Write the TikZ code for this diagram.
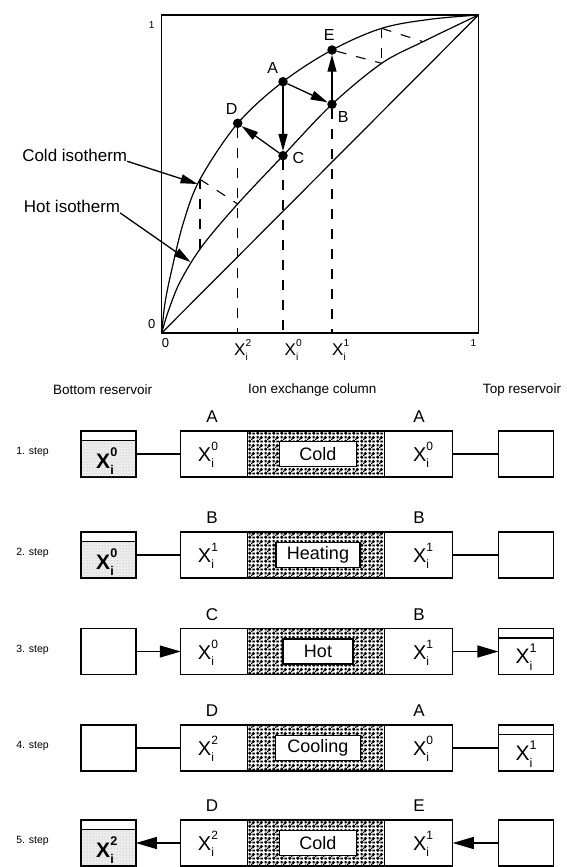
\documentclass[tikz,border=0pt]{standalone}
\usepackage{fontspec}
\setmainfont{Liberation Sans}
\usepackage{graphicx}
\usetikzlibrary{arrows.meta,patterns}
\pgfdeclarepatternformonly{speckle}{\pgfpointorigin}{\pgfpoint{8pt}{8pt}}{\pgfpoint{8pt}{8pt}}{%
  \pgfpathcircle{\pgfpoint{2pt}{2pt}}{2pt}%
  \pgfpathcircle{\pgfpoint{6pt}{6pt}}{1.9pt}%
  \pgfpathrectangle{\pgfpoint{5pt}{0.8pt}}{\pgfpoint{2.6pt}{1.8pt}}%
  \pgfpathrectangle{\pgfpoint{0.6pt}{5pt}}{\pgfpoint{2.2pt}{2.6pt}}%
  \pgfpathrectangle{\pgfpoint{3.4pt}{3.4pt}}{\pgfpoint{1.4pt}{1.4pt}}%
  \pgfusepath{fill}}
\newcommand{\Xsym}[1]{X\rlap{\raisebox{0.55em}{\scalebox{0.6}{#1}}}\raisebox{-0.3em}{\scalebox{0.6}{i}}}
\newcommand{\lidres}[1]{\draw[boxline] ([yshift=-9.5pt]#1.north west) -- ([yshift=-9.5pt]#1.north east);}
\newcommand{\stipres}[1]{\fill[stip] ([xshift=0.65pt,yshift=-10.2pt]#1.north west) rectangle ([xshift=-0.65pt,yshift=0.65pt]#1.south east);}
\newcommand{\colrow}[9]{%
  \fill[pattern=speckle] (247.7,#2-23) rectangle (384.4,#2+23);
  \draw[thinline] (247.7,#2-23) -- (247.7,#2+23) (384.4,#2-23) -- (384.4,#2+23);
  \node[colbox] (col#1) at (316.75,#2) {};
  \node[innerbox, minimum width=#9] (in#1) at (318,#2) {#8};
  \node[rowlbl] (la#1) at (212,#2-37) {#4};
  \node[rowlbl] (lb#1) at (419,#2-37) {#5};
  \node[xlbl] (xa#1) at (206,#2+1) {\Xsym{#6}};
  \node[xlbl] (xb#1) at (421,#2+1) {\Xsym{#7}};
  \node[steplbl] (s#1) at (32.5,#2-2) {#3};
  \node[res] (bl#1) at (108.35,#2) {};
  \node[res] (br#1) at (525.95,#2) {};
}
\tikzset{
  every node/.style={inner sep=0pt, outer sep=0pt},
  frame/.style={line width=1.3pt},
  curve/.style={line width=1.2pt},
  tie/.style={line width=1.1pt, dash pattern=on 10pt off 10pt},
  garr/.style={line width=1.3pt, -{Triangle[length=17pt,width=9pt]}},
  ptdot/.style={circle, fill=black, minimum size=9.5pt, inner sep=0pt},
  ptlbl/.style={font=\fontsize{16}{18}\selectfont},
  isolbl/.style={font=\fontsize{17}{19}\selectfont},
  axlbl/.style={font=\fontsize{13}{15}\selectfont},
  axone/.style={font=\fontsize{10}{12}\selectfont},
  axx/.style={font=\fontsize{17}{19}\selectfont},
  hdr/.style={font=\fontsize{13.5}{16}\selectfont},
  steplbl/.style={font=\fontsize{10.5}{12}\selectfont},
  rowlbl/.style={font=\fontsize{17}{19}\selectfont},
  xlbl/.style={font=\fontsize{20}{22}\selectfont},
  reslbl/.style={font=\fontsize{21}{23}\selectfont},
  boxline/.style={line width=1.4pt},
  thinline/.style={line width=0.7pt},
  res/.style={draw, line width=1.4pt, minimum width=55pt, minimum height=46pt},
  colbox/.style={draw, line width=1.4pt, minimum width=272pt, minimum height=46pt},
  innerbox/.style={draw, line width=1.4pt, fill=white, minimum height=25pt, font=\fontsize{18}{20}\selectfont},
  stip/.style={fill=gray!14, postaction={pattern=dots, pattern color=gray!70}},
  conn/.style={line width=1.3pt},
  rarr/.style={line width=1.3pt, -{Triangle[length=21pt,width=12pt]}},
}
\begin{document}
\begin{tikzpicture}[x=1pt,y=-1pt]
\useasboundingbox (0,0) rectangle (566,867);
% ---------------- graph ----------------
\coordinate (O) at (161.7,333);
\coordinate (TR) at (478.5,15);
\draw[frame] (O) rectangle (TR);
\draw[curve] (O) -- (TR);
\draw[curve] plot[smooth, tension=0.55] coordinates {(161.7,333) (165,303) (171.7,270) (183.3,223) (200,179.3) (237.7,123.3) (283,81.7) (332,50) (381.7,28.3) (430,19.3) (478.5,15)};
\draw[curve] plot[smooth, tension=0.55] coordinates {(161.7,333) (168,312) (180,282) (201.7,246.7) (236.7,205) (283,155.7) (332,104.3) (381.7,63.3) (423,41.7) (478.5,15)};
% points
\node[ptdot] (A) at (283,81.7) {};
\node[ptdot] (B) at (332,104.3) {};
\node[ptdot] (C) at (283,155.7) {};
\node[ptdot] (D) at (237.7,123.3) {};
\node[ptdot] (E) at (332,50) {};
\node[ptlbl] (lA) at (272.7,68.3) {A};
\node[ptlbl] (lB) at (343.3,117.3) {B};
\node[ptlbl] (lC) at (298.3,158.3) {C};
\node[ptlbl] (lD) at (231.7,109.3) {D};
\node[ptlbl] (lE) at (329.3,35) {E};
% dashed construction lines
\coordinate (c1) at (200,179.3);
\coordinate (h1) at (200,249.5);
\coordinate (h2) at (237.7,204);
\coordinate (c3) at (381.7,28.3);
\coordinate (h3) at (381.7,63.3);
\coordinate (h4) at (423,41.7);
\coordinate (Dax) at (237.7,333);
\coordinate (Cax) at (283,333);
\coordinate (Bax) at (332,333);
\draw[tie] (c1) -- (h1);
\draw[tie] (c1) -- (h2);
\draw[tie] (E) -- (h3);
\draw[tie] (c3) -- (h3);
\draw[tie] (c3) -- (h4);
\draw[tie] (D) -- (Dax);
\draw[tie] (C) -- (Cax);
\draw[tie] (B) -- (Bax);
% arrows between points
\draw[garr] (A) -- (B);
\draw[garr] (A) -- (C);
\draw[garr] (C) -- (D);
\draw[garr] (B) -- (E);
% isotherm labels
\node[isolbl] (lcold) at (74.7,155) {Cold isotherm};
\node[isolbl] (lhot) at (72,206.7) {Hot isotherm};
\coordinate (coldtip) at (197.5,184);
\coordinate (hottip) at (190.5,262);
\draw[garr] (lcold.south east) -- (coldtip);
\draw[garr] (lhot.south east) -- (hottip);
% axis labels
\node[axone] (y1) at (151.7,25) {1};
\node[axlbl] (y0) at (151.7,324) {0};
\node[axlbl] (x0) at (165.6,343.3) {0};
\node[axone] (x1) at (473.4,342.7) {1};
\node[axx] (xl2) at (241,350) {\Xsym{2}};
\node[axx] (xl0) at (291.5,350) {\Xsym{0}};
\node[axx] (xl1) at (339,350) {\Xsym{1}};
% ---------------- headers ----------------
\node[hdr] (h-bot) at (102.6,390) {Bottom reservoir};
\node[hdr] (h-col) at (312.3,390) {Ion exchange column};
\node[hdr] (h-top) at (522,390) {Top reservoir};
% ---------------- rows ----------------
\colrow{1}{454}{1. step}{A}{A}{0}{0}{Cold}{77pt}
\colrow{2}{555}{2. step}{B}{B}{1}{1}{Heating}{84pt}
\colrow{3}{651.5}{3. step}{C}{B}{0}{1}{Hot}{70pt}
\colrow{4}{748}{4. step}{D}{A}{2}{0}{Cooling}{85pt}
\colrow{5}{843}{5. step}{D}{E}{2}{1}{Cold}{77pt}
% reservoirs contents
\stipres{bl1}\lidres{bl1}
\node[reslbl] (rl1) at (105,461) {\bfseries\Xsym{0}};
\stipres{bl2}\lidres{bl2}
\node[reslbl] (rl2) at (105,562) {\bfseries\Xsym{0}};
\lidres{br3}
\node[reslbl] (rr3) at (524,657) {\Xsym{1}};
\lidres{br4}
\node[reslbl] (rr4) at (524,754) {\Xsym{1}};
\stipres{bl5}\lidres{bl5}
\node[reslbl] (rl5) at (105,850) {\bfseries\Xsym{2}};
% connectors
\draw[conn] (bl1) -- (col1);
\draw[conn] (col1) -- (br1);
\draw[conn] (bl2) -- (col2);
\draw[conn] (col2) -- (br2);
\draw[rarr] (bl3) -- (col3);
\draw[rarr] (col3) -- (br3);
\draw[conn] (bl4) -- (col4);
\draw[conn] (col4) -- (br4);
\draw[rarr] (col5) -- (bl5);
\draw[rarr] (br5) -- (col5);
\end{tikzpicture}
\end{document}
